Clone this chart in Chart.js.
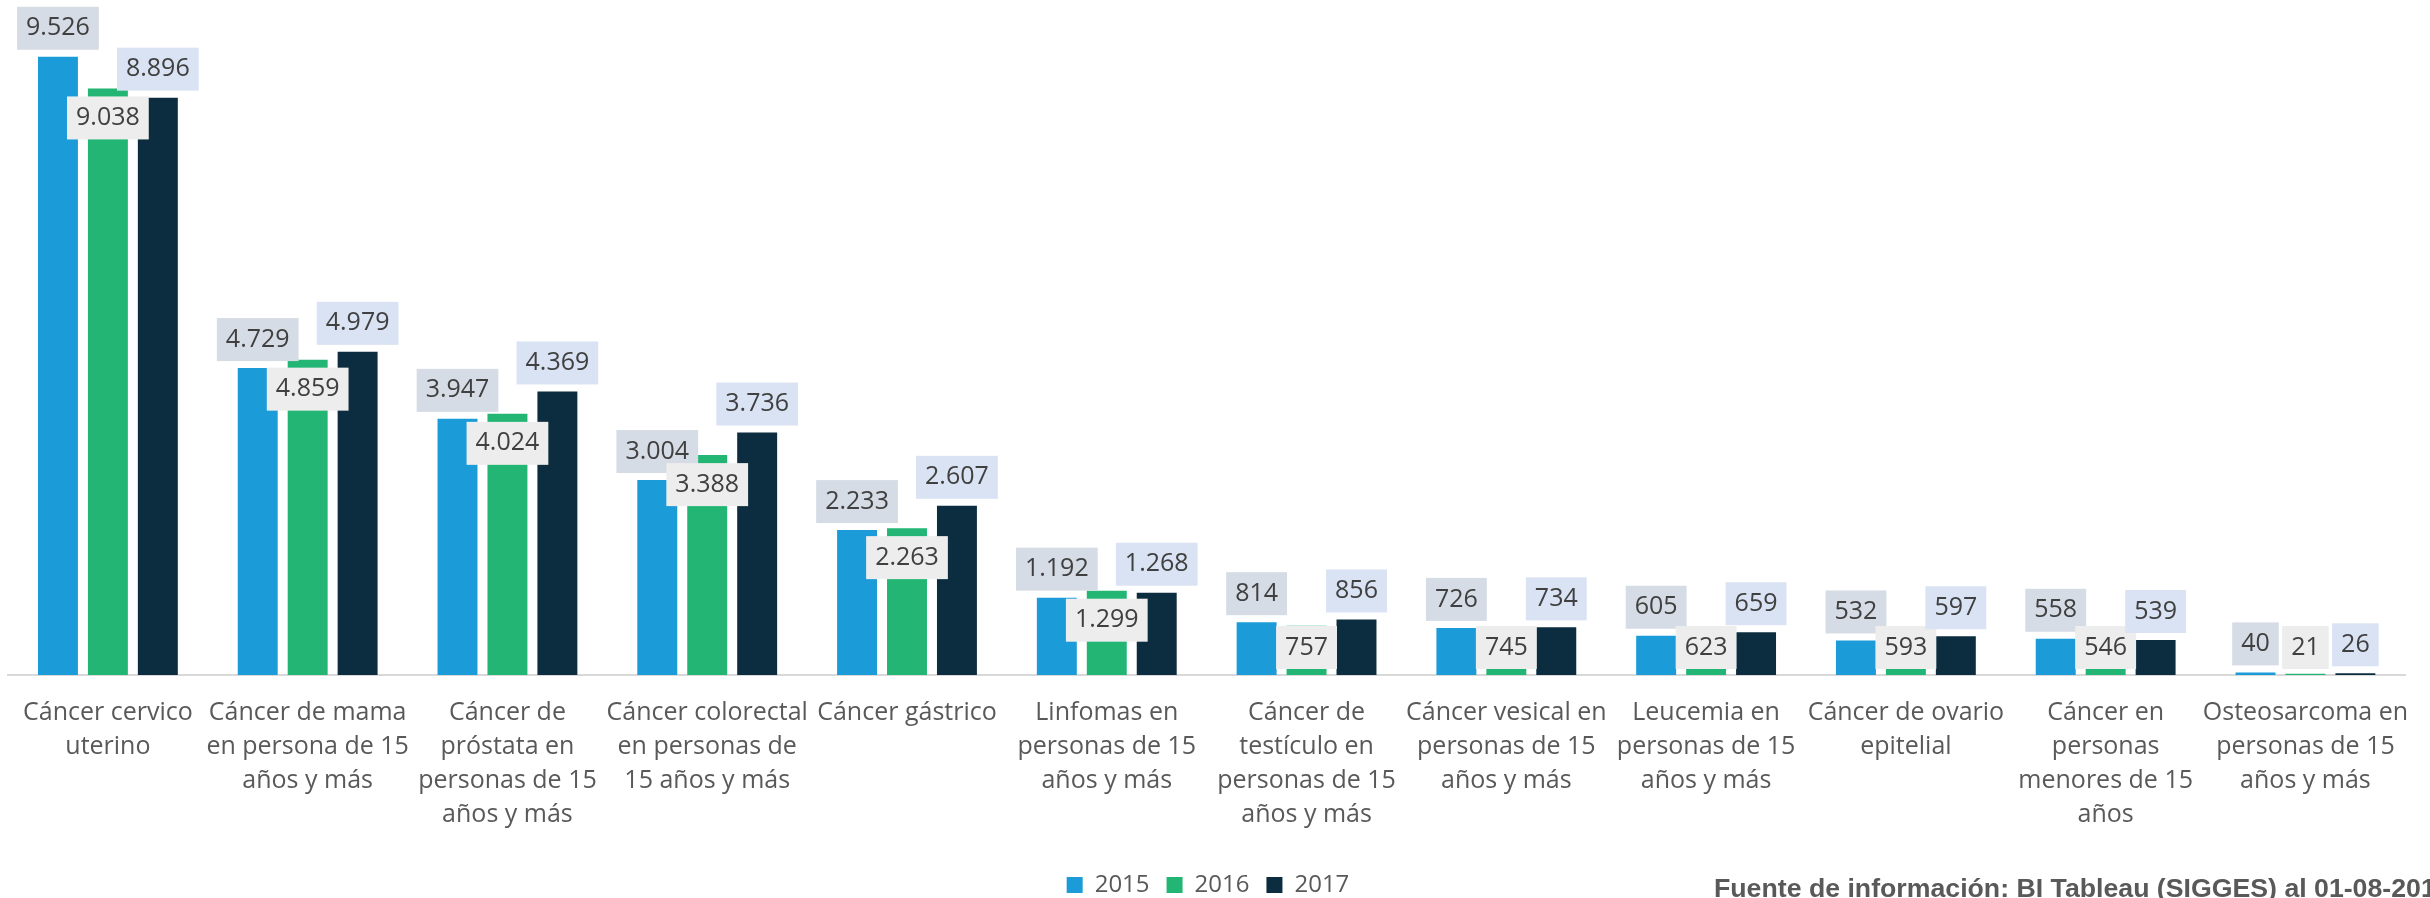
<!DOCTYPE html>
<html lang="es">
<head>
  <meta charset="UTF-8">
  <title>Casos por problema de salud oncológico 2015-2017</title>
  <script src="https://cdn.jsdelivr.net/npm/chart.js"></script>
  <style>
    html, body { margin: 0; padding: 0; background: #fff; overflow: hidden; }
    #wrap { position: relative; width: 2430px; height: 898px; overflow: hidden; }
    .fuente {
      position: absolute;
      left: 1714px;
      top: 875px;
      font: bold 26.7px "Liberation Sans", Arial, sans-serif;
      line-height: 27px;
      color: #595959;
      white-space: nowrap;
    }
  </style>
</head>
<body>
  <div id="wrap">
    <canvas id="chart" width="2430" height="898"></canvas>
    <div class="fuente">Fuente de información: BI Tableau (SIGGES) al 01-08-2017</div>
  </div>

  <script>
    const categories = [
      ["Cáncer cervico", "uterino"],
      ["Cáncer de mama", "en persona de 15", "años y más"],
      ["Cáncer de", "próstata en", "personas de 15", "años y más"],
      ["Cáncer colorectal", "en personas de", "15 años y más"],
      ["Cáncer gástrico"],
      ["Linfomas en", "personas de 15", "años y más"],
      ["Cáncer de", "testículo en", "personas de 15", "años y más"],
      ["Cáncer vesical en", "personas de 15", "años y más"],
      ["Leucemia en", "personas de 15", "años y más"],
      ["Cáncer de ovario", "epitelial"],
      ["Cáncer en", "personas", "menores de 15", "años"],
      ["Osteosarcoma en", "personas de 15", "años y más"]
    ];
    const years = ["2015", "2016", "2017"];
    const values2015 = [9526, 4729, 3947, 3004, 2233, 1192, 814, 726, 605, 532, 558, 40];
    const values2016 = [9038, 4859, 4024, 3388, 2263, 1299, 757, 745, 623, 593, 546, 21];
    const values2017 = [8896, 4979, 4369, 3736, 2607, 1268, 856, 734, 659, 597, 539, 26];

    const barColors = ["#1B9CD9", "#22B573", "#0B2D3F"];
    // label box colour and where it sits: above the bar or just inside its top
    const labelStyles = [
      { bg: "#D6DCE5", place: "above" },
      { bg: "#EDEDED", place: "inside" },
      { bg: "#DAE3F3", place: "above" }
    ];

    function fmt(v) {
      return String(v).replace(/\B(?=(\d{3})+(?!\d))/g, ".");
    }

    const barLabels = {
      id: "barLabels",
      afterDatasetsDraw(chart) {
        const ctx = chart.ctx;
        ctx.save();
        ctx.font = '25px "Open Sans"';
        ctx.textAlign = "center";
        ctx.textBaseline = "middle";
        chart.data.datasets.forEach((ds, di) => {
          const meta = chart.getDatasetMeta(di);
          meta.data.forEach((bar, i) => {
            const txt = fmt(ds.data[i]);
            const w = ctx.measureText(txt).width + 18;
            const h = 43;
            let top;
            if (labelStyles[di].place === "above") {
              top = bar.y - 7 - h;
            } else {
              top = Math.min(bar.y + 8, bar.base - 6 - h);
            }
            ctx.fillStyle = labelStyles[di].bg;
            ctx.fillRect(bar.x - w / 2, top, w, h);
            ctx.fillStyle = "#404040";
            ctx.fillText(txt, bar.x, top + h / 2);
          });
        });
        ctx.restore();
      }
    };

    const seriesValues = [values2015, values2016, values2017];

    new Chart(document.getElementById("chart"), {
      type: "bar",
      data: {
        labels: categories,
        datasets: years.map((y, i) => ({
          label: y,
          data: seriesValues[i],
          backgroundColor: barColors[i],
          borderWidth: 0,
          barPercentage: 0.8,
          categoryPercentage: 0.75
        }))
      },
      options: {
        responsive: false,
        animation: false,
        layout: { padding: { top: 26, left: 8, right: 22, bottom: 0 } },
        plugins: {
          legend: {
            position: "bottom",
            maxHeight: 42,
            labels: {
              boxWidth: 16,
              boxHeight: 16,
              padding: 17,
              color: "#595959",
              font: { family: "Open Sans", size: 24 }
            }
          },
          tooltip: { enabled: false }
        },
        scales: {
          x: {
            grid: { display: false, drawTicks: false },
            border: { display: true, color: "#D9D9D9", width: 2 },
            ticks: {
              autoSkip: false,
              maxRotation: 0,
              minRotation: 0,
              padding: 21,
              color: "#595959",
              font: { family: "Open Sans", size: 25, lineHeight: "34px" }
            },
            afterFit(scale) { scale.height = 181; }
          },
          y: {
            display: false,
            min: 0,
            max: 10000
          }
        }
      },
      plugins: [barLabels]
    });
  </script>
</body>
</html>
